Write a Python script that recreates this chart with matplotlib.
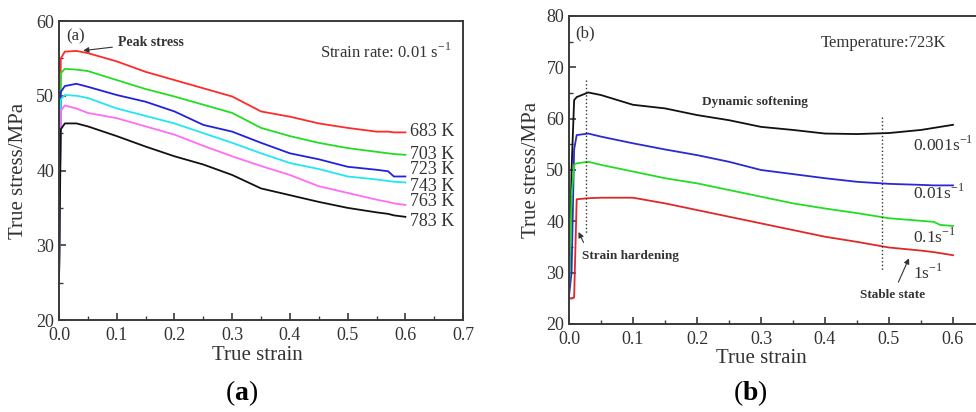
import matplotlib.pyplot as plt
from matplotlib.ticker import MultipleLocator

plt.rcParams['font.family'] = ['Liberation Serif', 'DejaVu Serif']
plt.rcParams['mathtext.fontset'] = 'custom'
plt.rcParams['mathtext.rm'] = 'Liberation Serif'
plt.rcParams['mathtext.bf'] = 'Liberation Serif:bold'

# (a) strain rate 0.01 s-1, different temperatures
strain_a = [0.0, 0.003, 0.01, 0.03, 0.05, 0.1, 0.15, 0.2, 0.25, 0.3, 0.35, 0.4, 0.45, 0.5, 0.55, 0.57, 0.58, 0.6]
stress_683 = [25.0, 55.0, 55.9, 56.0, 55.7, 54.6, 53.2, 52.1, 51.0, 49.9, 47.9, 47.2, 46.3, 45.7, 45.2, 45.2, 45.1, 45.1]
stress_703 = [25.2, 53.0, 53.6, 53.5, 53.3, 52.1, 50.9, 49.9, 48.8, 47.7, 45.7, 44.6, 43.7, 43.0, 42.5, 42.3, 42.2, 42.1]
stress_723 = [25.4, 50.5, 51.3, 51.6, 51.2, 50.1, 49.2, 47.9, 46.1, 45.2, 43.7, 42.3, 41.5, 40.5, 40.1, 39.9, 39.2, 39.2]
stress_743 = [25.6, 49.5, 50.1, 50.0, 49.7, 48.3, 47.3, 46.3, 45.0, 43.7, 42.3, 41.0, 40.2, 39.2, 38.8, 38.6, 38.5, 38.4]
stress_763 = [25.8, 48.0, 48.7, 48.3, 47.7, 47.0, 45.9, 44.8, 43.3, 41.9, 40.6, 39.4, 37.9, 37.0, 36.1, 35.8, 35.6, 35.4]
stress_783 = [26.0, 45.5, 46.3, 46.3, 45.9, 44.6, 43.2, 41.9, 40.8, 39.4, 37.6, 36.7, 35.8, 35.0, 34.4, 34.2, 34.0, 33.8]
temps = ['683 K', '703 K', '723 K', '743 K', '763 K', '783 K']
label_y_a = [45.2, 42.2, 40.2, 37.9, 35.8, 33.2]

# (b) temperature 723 K, different strain rates
strain_b = [0.0, 0.004, 0.008, 0.012, 0.03, 0.05, 0.1, 0.15, 0.2, 0.25, 0.3, 0.35, 0.4, 0.45, 0.5, 0.55, 0.57, 0.58, 0.6]
stress_0001 = [25.5, 50.0, 63.6, 64.2, 65.1, 64.6, 62.7, 62.0, 60.7, 59.7, 58.4, 57.8, 57.1, 57.0, 57.2, 57.8, 58.2, 58.4, 58.8]
stress_001 = [25.5, 30.0, 54.0, 56.8, 57.1, 56.5, 55.2, 54.0, 52.9, 51.6, 50.0, 49.2, 48.4, 47.7, 47.3, 47.1, 47.0, 47.0, 47.0]
stress_01 = [26.0, 45.0, 51.0, 51.3, 51.6, 51.0, 49.7, 48.4, 47.4, 46.1, 44.8, 43.5, 42.5, 41.6, 40.6, 40.1, 39.9, 39.3, 39.1]
stress_1 = [25.0, 25.0, 25.2, 44.3, 44.5, 44.6, 44.6, 43.5, 42.2, 40.9, 39.6, 38.3, 37.0, 36.0, 34.9, 34.3, 34.0, 33.8, 33.4]
rates = ['0.001s$^{-1}$', '0.01s$^{-1}$', '0.1s$^{-1}$', '1s$^{-1}$']
label_y_b = [54.9, 45.5, 37.0, 30.0]
xticks_b = [0.0, 0.1, 0.2, 0.3, 0.4, 0.5, 0.6]

colors_a = ['#ff2a2a', '#22dd22', '#2222dd', '#22e6f2', '#ff6cf5', '#111111']
colors_b = ['#111111', '#2a2ad0', '#22dd22', '#e02828']
frame = '#3a3a3a'
txt = '#333333'

fig = plt.figure(figsize=(9.76, 4.12), dpi=100)
ax1 = fig.add_axes([0.0605, 0.2233, 0.414, 0.7257])
ax2 = fig.add_axes([0.583, 0.2136, 0.459, 0.7476])


def style(ax):
    for s in ax.spines.values():
        s.set_color(frame)
        s.set_linewidth(1.4)
    ax.tick_params(which='both', direction='in', colors=frame, labelcolor=txt,
                   labelsize=13, top=False, right=False)
    ax.tick_params(which='major', length=5, width=1.2)
    ax.tick_params(which='minor', length=3, width=1.0)
    ax.tick_params(axis='x', which='major', pad=5)
    ax.xaxis.set_minor_locator(MultipleLocator(0.05))
    ax.yaxis.set_minor_locator(MultipleLocator(5))


# panel (a)
for ys, c in zip([stress_683, stress_703, stress_723, stress_743, stress_763, stress_783], colors_a):
    ax1.plot(strain_a, ys, color=c, lw=1.3)
for t, y in zip(temps, label_y_a):
    ax1.text(0.608, y, t, fontsize=13, color=txt, va='center', ha='left')
ax1.set_xlim(0, 0.7)
ax1.set_ylim(20, 60)
ax1.xaxis.set_major_locator(MultipleLocator(0.1))
ax1.yaxis.set_major_locator(MultipleLocator(10))
style(ax1)
ax1.set_xlabel('True strain', fontsize=15, color=txt)
ax1.xaxis.set_label_coords(0.49, -0.088)
ax1.set_ylabel('True stress/MPa', fontsize=15, color=txt, labelpad=6)
ax1.text(0.013, 58.0, '(a)', fontsize=12, color=txt, va='center')
ax1.annotate('Peak stress', xy=(0.037, 56.0), xytext=(0.102, 57.1), fontsize=10,
             fontweight='bold', color=txt, va='center',
             arrowprops=dict(arrowstyle='-|>', color=txt, lw=0.8, mutation_scale=8))
ax1.text(0.68, 55.9, 'Strain rate: 0.01 s$^{-1}$', fontsize=12, color=txt,
         ha='right', va='center')

# panel (b)
for ys, c in zip([stress_0001, stress_001, stress_01, stress_1], colors_b):
    ax2.plot(strain_b, ys, color=c, lw=1.3)
for r, y in zip(rates, label_y_b):
    ax2.text(0.537, y, r, fontsize=12.5, color=txt, va='center', ha='left')
ax2.plot([0.026, 0.026], [67.5, 37.7], color=txt, lw=1.0, ls=':')
ax2.plot([0.489, 0.489], [60.4, 30.6], color=txt, lw=1.0, ls=':')
ax2.set_xlim(0, 0.7)
ax2.set_ylim(20, 80)
ax2.set_xticks(xticks_b)
ax2.yaxis.set_major_locator(MultipleLocator(10))
style(ax2)
ax2.set_xlabel('True strain', fontsize=15, color=txt)
ax2.xaxis.set_label_coords(0.43, -0.08)
ax2.set_ylabel('True stress/MPa', fontsize=15, color=txt, labelpad=4)
ax2.text(0.009, 76.6, '(b)', fontsize=12, color=txt, va='center')
ax2.text(0.59, 74.7, 'Temperature:723K', fontsize=12, color=txt, ha='right', va='center')
ax2.text(0.29, 63.3, 'Dynamic softening', fontsize=9.5, fontweight='bold', color=txt,
         ha='center', va='center')
ax2.annotate('Strain hardening', xy=(0.013, 38.4), xytext=(0.021, 33.2), fontsize=9.5,
             fontweight='bold', color=txt, va='center',
             arrowprops=dict(arrowstyle='-|>', color=txt, lw=0.8, mutation_scale=8,
                             shrinkA=4, relpos=(0.05, 1.0)))
ax2.annotate('Stable state', xy=(0.533, 33.3), xytext=(0.505, 25.7), fontsize=9.5,
             fontweight='bold', color=txt, va='center', ha='center',
             arrowprops=dict(arrowstyle='-|>', color=txt, lw=0.8, mutation_scale=8,
                             shrinkA=3, relpos=(0.55, 1.0)))

# captions
fig.text(242 / 976, 1 - 393 / 412, r'($\mathbf{a}$)', fontsize=20, ha='center', va='center')
fig.text(750 / 976, 1 - 393 / 412, r'($\mathbf{b}$)', fontsize=20, ha='center', va='center')

plt.savefig('out.png', dpi=100)
